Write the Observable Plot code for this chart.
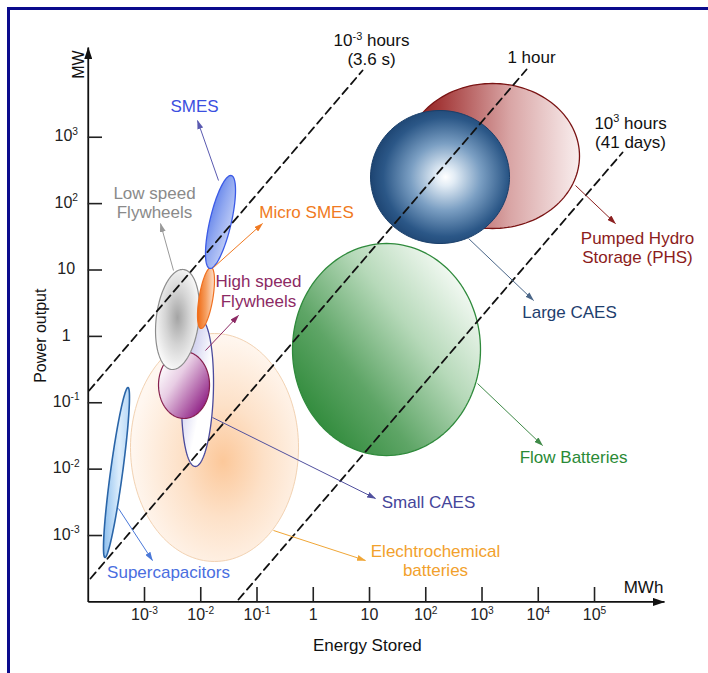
<!DOCTYPE html>
<html>
<head>
<meta charset="utf-8">
<script src="https://cdn.jsdelivr.net/npm/d3@7"></script>
<script src="https://cdn.jsdelivr.net/npm/@observablehq/plot@0.6"></script>
<style>
html, body { margin: 0; padding: 0; background: #fff; }
#wrap { position: relative; width: 708px; height: 673px; overflow: hidden; background: #fff; }
#chart svg { display: block; }
#border { position: absolute; left: 7px; top: 7px; right: 0; bottom: 0;
  border-left: 3px solid #0b0b8c; border-top: 3px solid #0b0b8c; pointer-events: none; }
</style>
</head>
<body>
<div id="wrap"><div id="chart"></div><div id="border"></div></div>
<script>
// ---------------- DATA (log10 exponents of MWh / MW) ----------------
const technologies = ["Electrochemical batteries", "Supercapacitors", "Flow Batteries", "Pumped Hydro Storage (PHS)",
  "Large CAES", "Small CAES", "High speed Flywheels", "Low speed Flywheels", "Micro SMES", "SMES"];
const energyLogMin = [-3.249, -3.729, -0.369, 1.640, 1.018, -2.342, -2.751, -2.804, -2.058, -1.916];
const energyLogMax = [-0.262, -3.267, 2.973, 4.733, 3.489, -1.773, -1.844, -2.022, -1.756, -1.382];
const powerLogMin  = [-3.391, -3.331, -1.795, 1.625, 1.399, -1.960, -1.237, -0.499, 0.119, 1.023];
const powerLogMax  = [0.043, -0.770, 1.399, 3.810, 3.403, 0.269, -0.228, 1.008, 1.038, 2.424];
const tiltDeg      = [0, 62, 0, 0, 0, 8, 0, 13, 35, 43];

const labelText = ["Elechtrochemical\nbatteries", "Supercapacitors", "Flow Batteries", "Pumped Hydro\nStorage (PHS)",
  "Large CAES", "Small CAES", "High speed\nFlywheels", "Low speed\nFlywheels", "Micro SMES", "SMES"];
const labelLogE = [2.173, -2.573, 4.627, 5.764, 4.556, 2.049, -0.973, -2.822, -0.120, -2.111];
const labelLogP = [-3.617, -3.647, -1.915, 1.098, 0.284, -2.578, 0.450, 1.776, 1.776, 3.373];

const pointerFromLogE = [-0.707, -3.462, 2.920, 4.662, 2.760, -1.791, -1.916, -2.484, -1.773, -1.684];
const pointerFromLogP = [-2.924, -2.593, -0.710, 2.273, 1.475, -1.222, -0.213, 0.992, 1.038, 2.348];
const pointerToLogE   = [0.929, -2.858, 4.076, 5.373, 3.916, 1.107, -1.329, -2.716, -0.902, -2.058];
const pointerToLogP   = [-3.376, -3.376, -1.644, 1.700, 0.541, -2.442, 0.315, 1.700, 1.700, 3.252];

const durationLabels = ["10^-3 hours\n(3.6 s)", "1 hour", "10^3 hours\n(41 days)"];
const durationStartLogE = [-3.983, -3.960, -1.329];
const durationStartLogP = [-0.815, -3.647, -3.964];
const durationEndLogE   = [0.876, 3.791, 5.498];
const durationEndLogP   = [4.005, 4.020, 2.770];
const durationLabelLogE = [1.036, 3.880, 5.640];
const durationLabelLogP = [4.081, 4.126, 2.845];

const xTicks = [1e-3, 1e-2, 1e-1, 1, 10, 1e2, 1e3, 1e4, 1e5];
const xTickLabels = ["10^-3", "10^-2", "10^-1", "1", "10", "10^2", "10^3", "10^4", "10^5"];
const yTicks = [1e-3, 1e-2, 1e-1, 1, 10, 1e2, 1e3];
const yTickLabels = ["10^-3", "10^-2", "10^-1", "1", "10", "10^2", "10^3"];
const xDomain = [1e-4, 10 ** 6.244];
const yDomain = [1e-4, 10 ** 4.352];

// ---------------- STYLES ----------------
const strokeColors = ["#f2d2b2", "#2a65a8", "#2f8a3c", "#7a1414", "#1a3f6a", "#4b4b9c", "#86204e", "#8c8c8c", "#f07020", "#3b5ae6"];
const strokeWidths = [1, 1.6, 1.3, 1.3, 1, 1.3, 1.2, 1.2, 1.2, 1.3];
const labelColors = ["#f2a12c", "#4a6ee0", "#2a8a36", "#8c1c1c", "#1e3e6e", "#45459a", "#8c2a64", "#8a8a8a", "#f07a22", "#3b4fe0"];
const pointerColors = ["#f0a636", "#4a78d8", "#3f8a48", "#8c2020", "#4a6688", "#50509e", "#8c2a64", "#999999", "#f07a22", "#5a5ab0"];
const gradients = [
  {type: "radial", cx: 0.55, cy: 0.56, r: 0.55, stops: [[0, "#fcc89a"], [0.45, "#fde1c8"], [1, "#fff7f0"]]},
  {type: "linear", x1: 0, y1: 0.5, x2: 1, y2: 0.5, stops: [[0, "#8fc0ee"], [0.6, "#dcedfc"], [1, "#b8d8f6"]]},
  {type: "linear", x1: 0.1, y1: 0.85, x2: 0.9, y2: 0.15, stops: [[0, "#2f8a3a"], [0.3, "#5ea566"], [0.65, "#b6d9b9"], [1, "#f6fbf6"]]},
  {type: "linear", x1: 0, y1: 0.5, x2: 1, y2: 0.5, stops: [[0, "#861414"], [0.2, "#a43a3a"], [0.6, "#d9a5a5"], [1, "#f9eeee"]]},
  {type: "radial", cx: 0.54, cy: 0.5, r: 0.56, stops: [[0, "#ffffff"], [0.12, "#e2ecf5"], [0.45, "#7b9fc3"], [0.8, "#2b5787"], [1, "#1b416e"]]},
  {type: "linear", x1: 0, y1: 0, x2: 1, y2: 1, stops: [[0, "#a9a9de"], [0.35, "#dcdcf3"], [0.6, "#ffffff"], [1, "#ffffff"]]},
  {type: "linear", x1: 0.1, y1: 0.15, x2: 0.9, y2: 0.85, stops: [[0, "#ffffff"], [0.35, "#e8cde4"], [1, "#8e1e84"]]},
  {type: "radial", cx: 0.5, cy: 0.48, r: 0.55, stops: [[0, "#a4a4a4"], [0.5, "#d4d4d4"], [1, "#fafafa"]]},
  {type: "linear", x1: 0, y1: 0.5, x2: 1, y2: 0.5, stops: [[0, "#ef6a14"], [0.5, "#f6a062"], [1, "#fde2cf"]]},
  {type: "linear", x1: 0, y1: 0, x2: 1, y2: 1, stops: [[0, "#2f58e2"], [0.45, "#8ea6f0"], [1, "#f4f6fe"]]}
];
const FONT = "'Liberation Sans', Arial, Helvetica, sans-serif";

// ---------------- BUILD ----------------
const N = 144;
const ellipseMarks = technologies.map((name, i) => {
  const cx = (energyLogMin[i] + energyLogMax[i]) / 2, rx = (energyLogMax[i] - energyLogMin[i]) / 2;
  const cy = (powerLogMin[i] + powerLogMax[i]) / 2, ry = (powerLogMax[i] - powerLogMin[i]) / 2;
  const phi = tiltDeg[i] * Math.PI / 180;
  const pts = d3.range(N).map(k => {
    const t = 2 * Math.PI * k / N;
    return {E: 10 ** (cx + rx * Math.cos(t)), P: 10 ** (cy + ry * Math.sin(t + phi))};
  });
  return Plot.line(pts, {x: "E", y: "P", curve: "linear-closed", fill: `url(#grad${i})`,
    stroke: strokeColors[i], strokeWidth: strokeWidths[i]});
});

const durationPts = durationLabels.flatMap((d, i) => [
  {d, E: 10 ** durationStartLogE[i], P: 10 ** durationStartLogP[i]},
  {d, E: 10 ** durationEndLogE[i], P: 10 ** durationEndLogP[i]}
]);

const pointerMarks = technologies.map((name, i) => Plot.link([{
    x1: 10 ** pointerFromLogE[i], y1: 10 ** pointerFromLogP[i],
    x2: 10 ** pointerToLogE[i], y2: 10 ** pointerToLogP[i]}],
  {x1: "x1", y1: "y1", x2: "x2", y2: "y2", stroke: pointerColors[i], strokeWidth: 1}));

const labelMarks = technologies.map((name, i) => Plot.text([labelText[i]], {
  x: () => 10 ** labelLogE[i], y: () => 10 ** labelLogP[i], text: d => d,
  fill: labelColors[i], fontSize: 17, lineAnchor: "bottom", textAnchor: "middle", lineHeight: 1.17}));

const svg = Plot.plot({
  width: 708, height: 673,
  marginLeft: 87.75, marginRight: 44, marginTop: 47, marginBottom: 71.6,
  x: {type: "log", domain: xDomain, axis: null},
  y: {type: "log", domain: yDomain, axis: null},
  style: {fontFamily: FONT, fontSize: "17px", background: "transparent", overflow: "visible"},
  marks: [
    ...ellipseMarks,
    Plot.line(durationPts, {x: "E", y: "P", z: "d", stroke: "#111", strokeWidth: 1.8, strokeDasharray: "8,5"}),
    ...pointerMarks,
    // axes with arrows
    Plot.link([{x1: xDomain[0], y1: yDomain[0], x2: xDomain[1], y2: yDomain[0]},
               {x1: xDomain[0], y1: yDomain[0], x2: xDomain[0], y2: yDomain[1]}],
      {x1: "x1", y1: "y1", x2: "x2", y2: "y2", stroke: "#111111", strokeWidth: 1.8}),
    Plot.ruleX(xTicks, {x: d => d, insetTop: 540, stroke: "#222", strokeWidth: 1.6}),
    Plot.ruleY(yTicks, {y: d => d, insetRight: 562, stroke: "#222", strokeWidth: 1.6}),
    Plot.text(xTicks, {x: d => d, text: (d, i) => xTickLabels[i], frameAnchor: "bottom", dy: 18,
      fontSize: 16, fill: "#222", textAnchor: "middle"}),
    Plot.text(yTicks, {y: d => d, text: (d, i) => yTickLabels[i], frameAnchor: "left", dx: -22, dy: -1,
      fontSize: 16, fill: "#222", textAnchor: "middle"}),
    ...labelMarks,
    Plot.text(durationLabels, {x: (d, i) => 10 ** durationLabelLogE[i], y: (d, i) => 10 ** durationLabelLogP[i],
      text: d => d, fill: "#111", fontSize: 17, lineAnchor: "bottom", textAnchor: "middle", lineHeight: 1.12}),
    // axis titles
    Plot.text(["MW"], {frameAnchor: "top-left", dx: -16, dy: 17, rotate: -90, fill: "#111", fontSize: 16, textAnchor: "middle"}),
    Plot.text(["Power output"], {frameAnchor: "left", dx: -47, dy: 11, rotate: -90, fill: "#111", fontSize: 16, textAnchor: "middle"}),
    Plot.text(["MWh"], {frameAnchor: "bottom-right", dx: -21, dy: -9, fill: "#111", fontSize: 17, textAnchor: "middle", lineAnchor: "bottom"}),
    Plot.text(["Energy Stored"], {frameAnchor: "bottom", dx: -9, dy: 49, fill: "#111", fontSize: 17, textAnchor: "middle", lineAnchor: "bottom"})
  ]
});
document.getElementById("chart").appendChild(svg);

// ---------------- post-processing: gradients, arrowheads, superscripts ----------------
const sel = d3.select(svg);
const defs = sel.insert("defs", ":first-child");
gradients.forEach((g, i) => {
  const el = defs.append(g.type === "radial" ? "radialGradient" : "linearGradient").attr("id", `grad${i}`);
  if (g.type === "radial") el.attr("cx", g.cx).attr("cy", g.cy).attr("r", g.r).attr("fx", g.cx).attr("fy", g.cy);
  else el.attr("x1", g.x1).attr("y1", g.y1).attr("x2", g.x2).attr("y2", g.y2);
  g.stops.forEach(([o, c]) => el.append("stop").attr("offset", o).attr("stop-color", c));
});

sel.selectAll('g[aria-label="link"]').each(function () {
  const color = this.getAttribute("stroke") || "#000";
  const sw = +this.getAttribute("stroke-width") || 1;
  const big = sw > 1.5;
  const id = "ah" + (big ? "B" : "S") + color.replace(/[^a-z0-9]/gi, "");
  if (defs.select("#" + id).empty()) {
    const L = big ? 12 : 9, W = big ? 8 : 6;
    defs.append("marker").attr("id", id).attr("viewBox", `0 0 ${L} ${W}`)
      .attr("refX", L - 0.5).attr("refY", W / 2).attr("markerWidth", L).attr("markerHeight", W)
      .attr("markerUnits", "userSpaceOnUse").attr("orient", "auto")
      .append("path").attr("d", `M0,0L${L},${W / 2}L0,${W}Z`).attr("fill", color);
  }
  d3.select(this).selectAll("path").attr("marker-end", `url(#${id})`);
});

const NS = "http://www.w3.org/2000/svg";
function supify(el, fs) {
  const s = el.textContent;
  const m = s.match(/^(.*?)\^(-?\d+)(.*)$/);
  if (!m) return;
  while (el.firstChild) el.removeChild(el.firstChild);
  const rise = 0.4 * fs;
  el.appendChild(document.createTextNode(m[1]));
  const b = document.createElementNS(NS, "tspan");
  b.setAttribute("dy", -rise); b.setAttribute("font-size", (0.64 * fs).toFixed(1) + "px");
  b.textContent = m[2]; el.appendChild(b);
  if (m[3]) {
    const c = document.createElementNS(NS, "tspan");
    c.setAttribute("dy", rise); c.textContent = m[3]; el.appendChild(c);
  }
}
sel.selectAll("text").each(function () {
  const fs = parseFloat(getComputedStyle(this).fontSize) || 16;
  const lines = Array.from(this.children).filter(c => c.tagName.toLowerCase() === "tspan");
  (lines.length ? lines : [this]).forEach(el => supify(el, fs));
});
</script>
</body>
</html>
